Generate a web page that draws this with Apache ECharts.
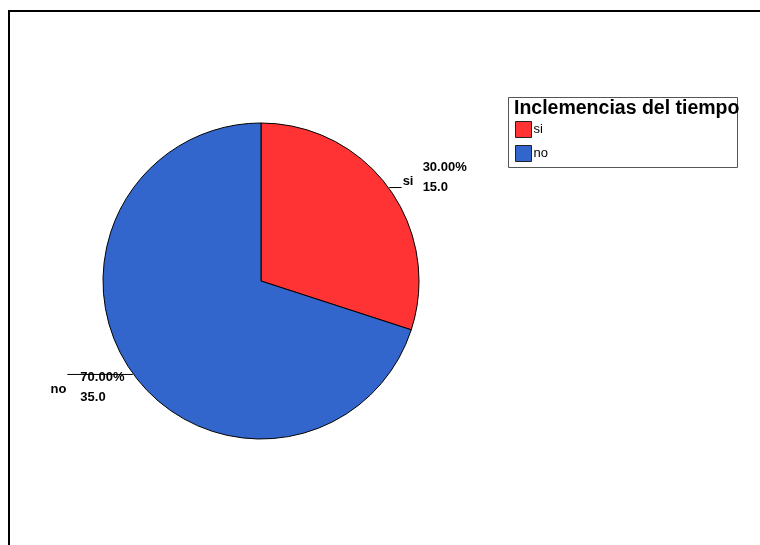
<!DOCTYPE html>
<html>
<head>
<meta charset="utf-8">
<script src="https://cdn.jsdelivr.net/npm/echarts@6/dist/echarts.min.js"></script>
<style>
html,body{margin:0;padding:0;background:#fff;}
#chart{width:760px;height:545px;}
</style>
</head>
<body>
<div id="chart"></div>
<script>
// ---- data ----
var categories = ['si', 'no'];
var counts = [15.0, 35.0];
var colors = ['#FF3333', '#3366CC'];
var legendTitle = 'Inclemencias del tiempo';

var FONT = '"Liberation Sans", Arial, sans-serif';
var chart = echarts.init(document.getElementById('chart'), null, {renderer: 'canvas'});

// per-category label tuning (styles only)
var lineLen2 = [12, 65];
var nameShift = [[0, -6], [0, 15]];
var valShift = [[20, -10], [14, 13]];

function makeData(transparent) {
  return categories.map(function (c, i) {
    var d = {
      name: c,
      value: counts[i],
      labelLine: {length2: lineLen2[i]}
    };
    d.itemStyle = transparent ? {color: 'rgba(0,0,0,0)', borderWidth: 0} : {color: colors[i]};
    return d;
  });
}

var option = {
  animation: false,
  backgroundColor: '#fff',
  legend: {
    data: categories,
    orient: 'vertical',
    left: 515,
    top: 121,
    padding: 0,
    itemWidth: 16,
    itemHeight: 16,
    itemGap: 7,
    icon: 'rect',
    selectedMode: false,
    itemStyle: {borderColor: '#222', borderWidth: 1},
    textStyle: {fontSize: 13, fontFamily: FONT, color: '#000', padding: [0, 0, 0, -3]}
  },
  graphic: [
    {type: 'rect', z: -1, shape: {x: 9, y: 11, width: 800, height: 600},
     style: {fill: 'none', stroke: '#000', lineWidth: 2}},
    {type: 'rect', z: 1, shape: {x: 508.5, y: 97.5, width: 229, height: 70},
     style: {fill: 'none', stroke: '#555', lineWidth: 1}},
    {type: 'text', z: 2, x: 514, y: 99,
     style: {text: legendTitle, font: 'bold 19.5px ' + FONT, fill: '#000', textVerticalAlign: 'top'}}
  ],
  series: [
    {
      type: 'pie',
      center: [261, 281],
      radius: 158,
      startAngle: 90,
      clockwise: true,
      silent: true,
      emphasis: {disabled: true},
      itemStyle: {borderColor: '#000', borderWidth: 1},
      label: {
        show: true, position: 'outside', formatter: '{b}',
        fontWeight: 'bold', fontSize: 13, fontFamily: FONT, color: '#000',
        distanceToLabelLine: 1
      },
      labelLine: {show: true, length: 1, length2: 12, smooth: false,
        lineStyle: {color: '#000', width: 1}},
      labelLayout: function (p) {
        var s = nameShift[p.dataIndex];
        return {dx: s[0], dy: s[1], labelLinePoints: p.labelLinePoints};
      },
      data: makeData(false)
    },
    {
      type: 'pie',
      center: [261, 281],
      radius: 158,
      startAngle: 90,
      clockwise: true,
      silent: true,
      emphasis: {disabled: true},
      label: {
        show: true, position: 'outside',
        formatter: function (p) { return p.percent.toFixed(2) + '%\n' + p.value.toFixed(1); },
        fontWeight: 'bold', fontSize: 13, fontFamily: FONT, color: '#000', lineHeight: 20,
        distanceToLabelLine: 1
      },
      labelLine: {show: false, length: 1, length2: 12},
      labelLayout: function (p) {
        var s = valShift[p.dataIndex];
        return {dx: s[0], dy: s[1], align: 'left'};
      },
      data: makeData(true)
    }
  ]
};
chart.setOption(option);
</script>
</body>
</html>
